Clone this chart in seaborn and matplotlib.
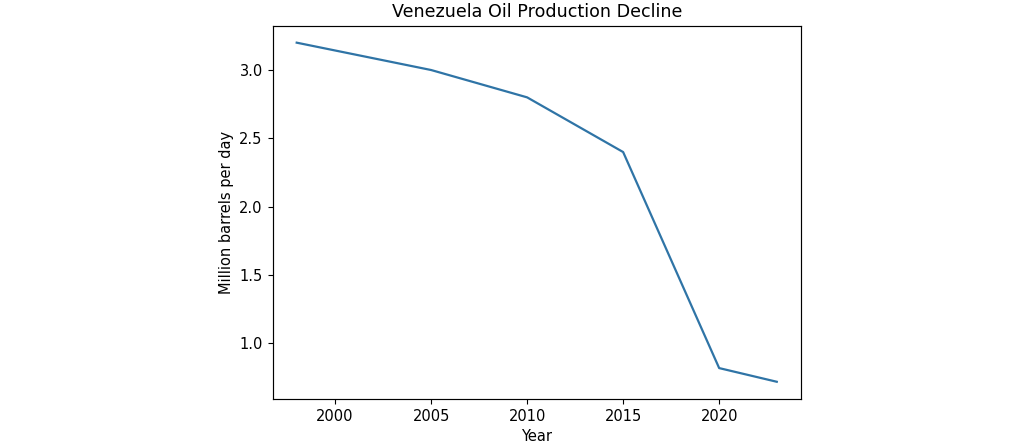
import matplotlib
matplotlib.use("Agg")
import matplotlib.pyplot as plt
import seaborn as sns
import pandas as pd

years = [1998, 2005, 2010, 2015, 2020, 2023]
production = [3.2, 3.0, 2.8, 2.4, 0.82, 0.72]

df = pd.DataFrame({"Year": years, "Million barrels per day": production})

fig = plt.figure(figsize=(10.24, 4.48), dpi=100)
ax = fig.add_axes([0.2663, 0.110, 0.782 - 0.2663, 0.9426 - 0.110])
sns.lineplot(data=df, x="Year", y="Million barrels per day", ax=ax,
             color="#2f74a6", linewidth=1.6)
ax.set_title("Venezuela Oil Production Decline", fontsize=12.6, pad=6.3)
ax.set_xlabel("Year", fontsize=10.5)
ax.set_ylabel("Million barrels per day", fontsize=10.5)
ax.tick_params(labelsize=10.5, length=3.7)
for s in ax.spines.values():
    s.set_linewidth(0.85)
fig.savefig("out.png", dpi=100)
